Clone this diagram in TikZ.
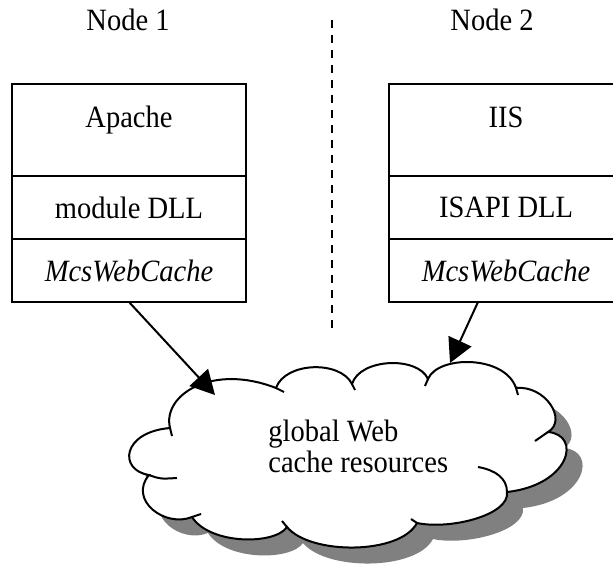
\documentclass[tikz,border=0pt]{standalone}
\usepackage{fontspec}
\setmainfont{Liberation Serif}[FakeStretch=0.92]
\usetikzlibrary{positioning,arrows.meta,calc}

\def\cloudoutline{(149,475) .. controls (118,470) and (122,432) .. (170,428)
  .. controls (162,395) and (212,363) .. (276,388)
  .. controls (285,362) and (340,360) .. (352,384)
  .. controls (360,358) and (418,356) .. (428,379)
  .. controls (438,355) and (505,355) .. (516,388)
  .. controls (545,385) and (568,420) .. (548,432)
  .. controls (582,435) and (570,485) .. (507,492)
  .. controls (510,515) and (450,530) .. (417,523)
  .. controls (400,555) and (310,555) .. (287,527)
  .. controls (275,545) and (210,545) .. (192,517)
  .. controls (165,528) and (128,500) .. (149,475) -- cycle}

\begin{document}
\begin{tikzpicture}[x=0.5pt,y=-0.5pt,
  every node/.style={font=\fontsize{15.5pt}{15.5pt}\selectfont},
  cell/.style={draw,line width=1pt,outer sep=0pt,minimum width=117pt,minimum height=31.5pt,inner sep=0pt},
  toprow/.style={cell,minimum height=46pt,text height=10pt,text depth=13pt},
  feed/.style={line width=1pt,-{Triangle[length=12pt,width=12.5pt]}},
  puff/.style={line width=1pt}]
  \useasboundingbox (0,0) rectangle (613,572);
  \clip (0,0) rectangle (613,572);

  % hosts and the split between them
  \node[anchor=base] (hostL) at (128,31) {Node 1};
  \node[anchor=base] (hostR) at (492,31) {Node 2};
  \coordinate (divtop) at (332,20);
  \coordinate (divbot) at (332,328);
  \draw[line width=0.75pt,dash pattern=on 4pt off 3.5pt] (divtop) -- (divbot);

  % shared cache cloud
  \fill[black!50,shift={(16,16)}] \cloudoutline;
  \draw[puff,fill=white] \cloudoutline;
  \draw[puff] (149,475) .. controls (160,479) .. (177,478);
  \draw[puff] (170,428) -- (172,436);
  \draw[puff] (276,388) -- (284,392);
  \draw[puff] (352,384) -- (355,390);
  \draw[puff] (428,379) -- (425,386);
  \draw[puff] (516,388) -- (518,395);
  \draw[puff] (548,432) -- (535,441);
  \draw[puff] (507,492) .. controls (507,478) and (495,470) .. (478,467);
  \draw[puff] (417,523) -- (411,519);
  \draw[puff] (287,527) -- (282,521);
  \draw[puff] (192,517) -- (201,514);
  \node[anchor=north west,align=left,inner sep=0pt] (pool) at (268,420) {global Web\\cache resources};

  % server stacks
  \node[toprow,anchor=north] (srvL) at (129,84) {Apache};
  \node[cell,below=0pt of srvL] (modL) {module DLL};
  \node[cell,below=0pt of modL] (cacheL) {\itshape McsWebCache};

  \node[toprow,anchor=north] (srvR) at (506,84) {IIS};
  \node[cell,below=0pt of srvR] (modR) {ISAPI DLL};
  \node[cell,below=0pt of modR] (cacheR) {\itshape McsWebCache};

  % links into the cloud
  \coordinate (tipL) at (215,395);
  \coordinate (tipR) at (450,363);
  \draw[feed] (cacheL.south) -- (tipL);
  \draw[feed] ($(cacheR.south)+(-28,0)$) -- (tipR);
\end{tikzpicture}
\end{document}
